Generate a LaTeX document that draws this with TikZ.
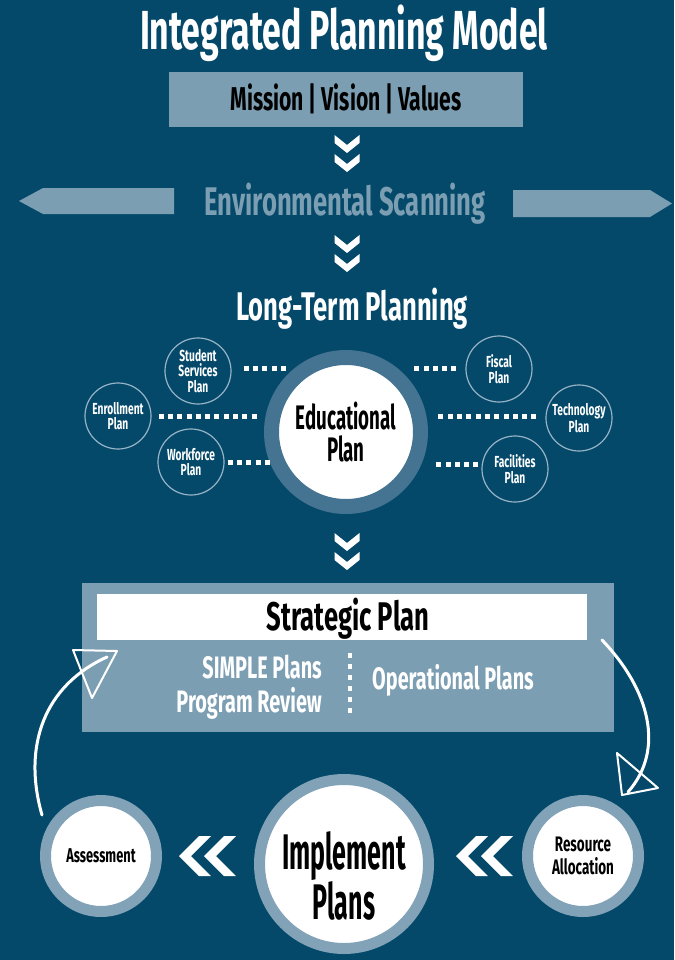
\documentclass[tikz,border=0pt]{standalone}
\usepackage{fontspec}
\newfontfamily\cf[FakeStretch=0.64]{Fira Sans}
\newfontfamily\cft[FakeStretch=0.615]{Fira Sans}
\newfontfamily\cfn[FakeStretch=0.55]{Fira Sans}
\newfontfamily\cfi[FakeStretch=0.5]{Fira Sans}
\newcommand\myfs[2]{\cf\bfseries\fontsize{#1}{#2}\selectfont}
\definecolor{bg}{RGB}{4,73,106}
\definecolor{light}{RGB}{124,158,178}
\definecolor{ringdark}{RGB}{68,116,145}
\definecolor{ringlight}{RGB}{130,163,183}
\definecolor{outl}{RGB}{150,180,198}
\newcommand\chevdown[2]{\fill[white] (#1-12.5,#2) -- (#1,#2+10) -- (#1+12.5,#2) -- (#1+12.5,#2+8) -- (#1,#2+18) -- (#1-12.5,#2+8) -- cycle;}
\newcommand\chevleft[2]{\fill[white] (#1,#2) -- (#1+20,#2-20) -- (#1+32,#2-20) -- (#1+12,#2) -- (#1+32,#2+20) -- (#1+20,#2+20) -- cycle;}
\begin{document}
\begin{tikzpicture}[x=1pt,y=-1pt,
  smallc/.style={circle, draw=outl, line width=1.2pt, minimum size=66pt, inner sep=0pt, align=center, text=white, font={\myfs{16}{15.5}}},
  dotline/.style={white, line width=5pt, dash pattern=on 5pt off 4.3pt},
  bigc/.style={circle, fill=white, inner sep=0pt, align=center, text=black},
  curvearrow/.style={white, line width=3pt, line cap=round},
  tri/.style={white, line width=2pt, line join=round}
]
\fill[bg] (0,0) rectangle (674,960);
\useasboundingbox (0,0) rectangle (674,960);

% title
\node[anchor=base, inner sep=0pt, text=white, font={\cft\bfseries\fontsize{55}{55}\selectfont}] (title) at (344,50) {Integrated Planning Model};

% mission
\node[fill=light, minimum width=354pt, minimum height=55pt, inner sep=0pt] (mvv) at (346,99.5) {};
\node[anchor=base, inner sep=0pt, text=black, font={\myfs{33}{33}}] (mvvt) at (346,111) {Mission | Vision | Values};

\chevdown{347}{135}
\chevdown{347}{154}

% environmental scanning
\fill[light] (19,201) -- (43,188) -- (174,188) -- (174,214) -- (43,214) -- cycle;
\fill[light] (513,190) -- (650,190) -- (672,203.5) -- (650,217) -- (513,217) -- cycle;
\node[anchor=base, inner sep=0pt, text=light, font={\myfs{40}{40}}] (env) at (345,215) {Environmental Scanning};

\chevdown{347}{235}
\chevdown{347}{254}

\node[anchor=base, inner sep=0pt, text=white, font={\myfs{40}{40}}] (ltp) at (352,320) {Long-Term Planning};

% educational plan
\node[bigc, draw=ringdark, line width=15pt, minimum size=149pt, font={\cfn\bfseries\fontsize{34}{32}\selectfont}] (edu) at (346,432) {Educational\\Plan};

\node[smallc] (ss) at (198,371) {Student\\Services\\Plan};
\node[smallc] (en) at (118,416) {Enrollment\\Plan};
\node[smallc] (wf) at (191,462) {Workforce\\Plan};
\node[smallc] (fi) at (499,369) {Fiscal\\Plan};
\node[smallc] (te) at (579,418) {Technology\\Plan};
\node[smallc] (fa) at (515,469) {Facilities\\Plan};

\draw[dotline] ([xshift=12pt]ss.east |- 0,368) -- ++(42,0);
\draw[dotline] ([xshift=7pt]en.east |- 0,416) -- ++(99,0);
\draw[dotline] ([xshift=3pt]wf.east |- 0,462) -- ++(42,0);
\draw[dotline] ([xshift=-9pt]fi.west |- 0,368) -- ++(-42,0);
\draw[dotline] ([xshift=-9pt]te.west |- 0,416) -- ++(-99,0);
\draw[dotline] ([xshift=-3pt]fa.west |- 0,464) -- ++(-42,0);

\chevdown{347}{533}
\chevdown{347}{552}

% strategic plan box
\node[fill=light, minimum width=532pt, minimum height=149pt, inner sep=0pt] (sbox) at (348,657.5) {};
\node[fill=white, minimum width=490pt, minimum height=46pt, inner sep=0pt] (sbar) at (342,616.5) {};
\node[anchor=base, inner sep=0pt, text=black, font={\myfs{40}{40}}] (sp) at (348,630) {Strategic Plan};
\node[anchor=base east, inner sep=0pt, text=white, font={\myfs{31}{31}}] (simple) at (322,678) {SIMPLE Plans};
\node[anchor=base east, inner sep=0pt, text=white, font={\myfs{31}{31}}] (prog) at (322,712) {Program Review};
\node[anchor=base west, inner sep=0pt, text=white, font={\myfs{31}{31}}] (oper) at (372,689) {Operational Plans};
\draw[white, line width=4pt, dash pattern=on 5pt off 6pt] (350,653) -- (350,714);

% bottom circles
\node[bigc, draw=ringlight, line width=11pt, minimum size=111pt, font={\myfs{20}{20}}] (ass) at (101,856) {Assessment};
\node[bigc, draw=ringlight, line width=11pt, minimum size=169pt] (imp) at (344,864) {};
\node[inner sep=0pt, align=center, text=black, font={\cfi\bfseries\fontsize{50}{44}\selectfont}] (impt) at ([yshift=-12pt]imp.center) {Implement\\Plans};
\node[bigc, draw=ringlight, line width=11pt, minimum size=111pt, font={\myfs{21}{23}}] (res) at (583,856) {Resource\\Allocation};

\chevleft{179}{856}
\chevleft{204}{856}
\chevleft{456}{856}
\chevleft{481}{856}

% curved arrows
\coordinate (la0) at (42,815);
\coordinate (la1) at (107,657);
\draw[curvearrow] (la0) .. controls (22,745) and (45,685) .. (la1);
\draw[tri] (73,650) -- (117,651) -- (92,698) -- cycle;
\coordinate (ra0) at (602,640);
\coordinate (ra1) at (628,792);
\draw[curvearrow] (ra0) .. controls (650,690) and (665,750) .. (ra1);
\draw[tri] (617,753) -- (658,788) -- (622,795) -- cycle;
\end{tikzpicture}
\end{document}
